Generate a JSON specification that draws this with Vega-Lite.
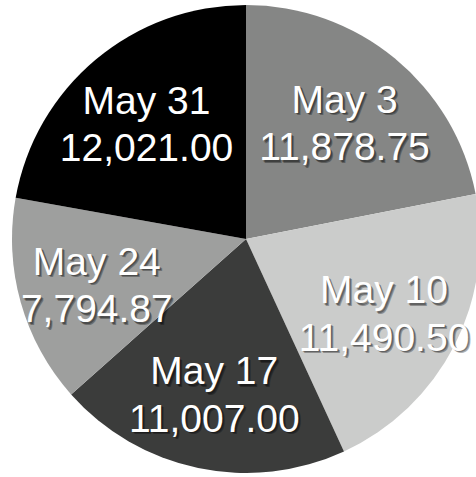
{
  "$schema": "https://vega.github.io/schema/vega-lite/v6.json",
  "width": 468,
  "height": 468,
  "autosize": {"type": "none"},
  "padding": {"left": 12, "top": 5, "right": 0, "bottom": 0},
  "background": "white",
  "config": {"view": {"stroke": null}},
  "data": {
    "values": [
      {"date": "May 3", "week": 1, "value": 11878.75},
      {"date": "May 10", "week": 2, "value": 11490.50},
      {"date": "May 17", "week": 3, "value": 11007.00},
      {"date": "May 24", "week": 4, "value": 7794.87},
      {"date": "May 31", "week": 5, "value": 12021.00}
    ]
  },
  "encoding": {
    "theta": {"field": "value", "type": "quantitative", "stack": true},
    "order": {"field": "week", "type": "quantitative", "sort": "ascending"}
  },
  "layer": [
    {
      "mark": {"type": "arc"},
      "encoding": {
        "color": {
          "field": "date",
          "type": "nominal",
          "scale": {
            "domain": ["May 3", "May 10", "May 17", "May 24", "May 31"],
            "range": ["#858685", "#cbcccb", "#3b3c3b", "#9e9f9e", "#000000"]
          },
          "legend": null
        }
      }
    },
    {
      "mark": {"type": "text", "radius": 155, "dx": 2.5, "dy": -16, "fontSize": 39, "font": "Liberation Sans", "fill": "#000000", "opacity": 0.3, "baseline": "middle", "align": "center"},
      "encoding": {"text": {"field": "date", "type": "nominal"}}
    },
    {
      "mark": {"type": "text", "radius": 155, "dx": 2.5, "dy": 31.5, "fontSize": 39, "font": "Liberation Sans", "fill": "#000000", "opacity": 0.3, "baseline": "middle", "align": "center"},
      "encoding": {"text": {"field": "value", "type": "quantitative", "format": ",.2f"}}
    },
    {
      "mark": {"type": "text", "radius": 155, "dx": 1.5, "dy": -17, "fontSize": 39, "font": "Liberation Sans", "fill": "#000000", "opacity": 0.3, "baseline": "middle", "align": "center"},
      "encoding": {"text": {"field": "date", "type": "nominal"}}
    },
    {
      "mark": {"type": "text", "radius": 155, "dx": 1.5, "dy": 30.5, "fontSize": 39, "font": "Liberation Sans", "fill": "#000000", "opacity": 0.3, "baseline": "middle", "align": "center"},
      "encoding": {"text": {"field": "value", "type": "quantitative", "format": ",.2f"}}
    },
    {
      "mark": {"type": "text", "radius": 155, "dy": -18.5, "fontSize": 39, "font": "Liberation Sans", "fill": "#ffffff", "baseline": "middle", "align": "center"},
      "encoding": {"text": {"field": "date", "type": "nominal"}}
    },
    {
      "mark": {"type": "text", "radius": 155, "dy": 29, "fontSize": 39, "font": "Liberation Sans", "fill": "#ffffff", "baseline": "middle", "align": "center"},
      "encoding": {"text": {"field": "value", "type": "quantitative", "format": ",.2f"}}
    }
  ]
}
